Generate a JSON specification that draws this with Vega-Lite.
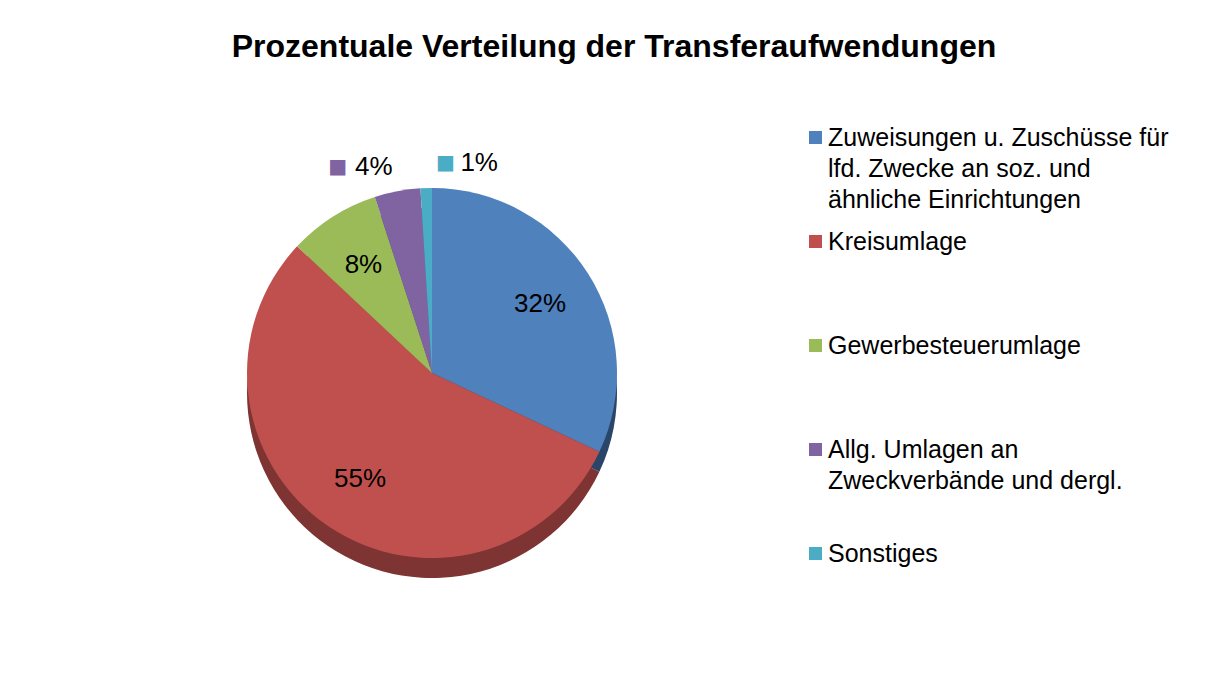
{
  "$schema": "https://vega.github.io/schema/vega-lite/v6.json",
  "autosize": "none",
  "width": 746,
  "height": 606,
  "padding": {"left": 59, "top": 70, "right": 409, "bottom": 0},
  "background": "white",
  "title": {
    "text": "Prozentuale Verteilung der Transferaufwendungen",
    "fontSize": 32,
    "font": "Liberation Sans",
    "fontWeight": "bold",
    "color": "#000000",
    "anchor": "middle",
    "frame": "bounds",
    "offset": 6
  },
  "data": {
    "values": [
      {"idx": 1, "kategorie": "Zuweisungen u. Zuschüsse für lfd. Zwecke an soz. und ähnliche Einrichtungen", "anteil": 0.32},
      {"idx": 2, "kategorie": "Kreisumlage", "anteil": 0.55},
      {"idx": 3, "kategorie": "Gewerbesteuerumlage", "anteil": 0.08},
      {"idx": 4, "kategorie": "Allg. Umlagen an Zweckverbände und dergl.", "anteil": 0.04},
      {"idx": 5, "kategorie": "Sonstiges", "anteil": 0.01}
    ]
  },
  "encoding": {
    "theta": {"field": "anteil", "type": "quantitative", "stack": true},
    "order": {"field": "idx", "type": "quantitative"}
  },
  "layer": [
    {
      "mark": {"type": "arc", "outerRadius": 185, "yOffset": 20},
      "encoding": {
        "color": {
          "field": "kategorie", "type": "nominal",
          "scale": {
            "domain": ["Zuweisungen u. Zuschüsse für lfd. Zwecke an soz. und ähnliche Einrichtungen", "Kreisumlage", "Gewerbesteuerumlage", "Allg. Umlagen an Zweckverbände und dergl.", "Sonstiges"],
            "range": ["#2B4568", "#7E3432", "#6F8A3C", "#5A4676", "#337F96"]
          },
          "legend": null
        }
      }
    },
    {
      "mark": {"type": "arc", "outerRadius": 185},
      "encoding": {
        "color": {
          "field": "kategorie", "type": "nominal",
          "scale": {
            "domain": ["Zuweisungen u. Zuschüsse für lfd. Zwecke an soz. und ähnliche Einrichtungen", "Kreisumlage", "Gewerbesteuerumlage", "Allg. Umlagen an Zweckverbände und dergl.", "Sonstiges"],
            "range": ["#4F81BD", "#C0504D", "#9BBB59", "#8064A2", "#4BACC6"]
          },
          "legend": {
            "title": null,
            "orient": "none",
            "legendX": 744,
            "legendY": 55,
            "symbolType": "square",
            "symbolSize": 169,
            "symbolStrokeWidth": 0,
            "labelFont": "Liberation Sans",
            "labelFontSize": 25,
            "labelColor": "#000000",
            "labelLimit": 500,
            "labelOffset": 0,
            "labelBaseline": "top",
            "rowPadding": 16,
            "labelExpr": "datum.label == 'Zuweisungen u. Zuschüsse für lfd. Zwecke an soz. und ähnliche Einrichtungen' ? ['Zuweisungen u. Zuschüsse für', 'lfd. Zwecke an soz. und', 'ähnliche Einrichtungen'] : datum.label == 'Allg. Umlagen an Zweckverbände und dergl.' ? ['Allg. Umlagen an', 'Zweckverbände und dergl.', ' '] : [datum.label, ' ', ' ']",
            "encode": {
              "labels": {"update": {"lineHeight": {"value": 31}, "dy": {"value": -12}}}
            }
          }
        }
      }
    },
    {
      "mark": {"type": "text", "radius": 128, "fontSize": 26, "font": "Liberation Sans", "fill": "#000000", "baseline": "middle"},
      "encoding": {
        "detail": {"field": "kategorie", "type": "nominal"},
        "text": {"condition": {"test": "datum.anteil < 0.05", "value": ""}, "field": "anteil", "type": "quantitative", "format": ".0%"}
      }
    },
    {
      "mark": {"type": "text", "radius": 210, "fontSize": 26, "font": "Liberation Sans", "fill": "#000000", "baseline": "middle", "align": "right"},
      "encoding": {
        "detail": {"field": "kategorie", "type": "nominal"},
        "text": {"condition": {"test": "datum.idx != 4", "value": ""}, "field": "anteil", "type": "quantitative", "format": ".0%"}
      }
    },
    {
      "mark": {"type": "text", "radius": 210, "fontSize": 26, "font": "Liberation Sans", "fill": "#000000", "baseline": "middle", "align": "left", "dx": 35},
      "encoding": {
        "detail": {"field": "kategorie", "type": "nominal"},
        "text": {"condition": {"test": "datum.idx != 5", "value": ""}, "field": "anteil", "type": "quantitative", "format": ".0%"}
      }
    },
    {
      "mark": {"type": "text", "radius": 210, "fontSize": 20, "font": "DejaVu Sans", "baseline": "middle", "align": "center", "dx": -55},
      "encoding": {
        "color": {
          "field": "kategorie", "type": "nominal",
          "scale": {
            "domain": ["Zuweisungen u. Zuschüsse für lfd. Zwecke an soz. und ähnliche Einrichtungen", "Kreisumlage", "Gewerbesteuerumlage", "Allg. Umlagen an Zweckverbände und dergl.", "Sonstiges"],
            "range": ["#4F81BD", "#C0504D", "#9BBB59", "#8064A2", "#4BACC6"]
          },
          "legend": null
        },
        "text": {"condition": {"test": "datum.idx == 4", "value": "■"}, "value": ""}
      }
    },
    {
      "mark": {"type": "text", "radius": 210, "fontSize": 20, "font": "DejaVu Sans", "baseline": "middle", "align": "center", "dx": 20},
      "encoding": {
        "color": {
          "field": "kategorie", "type": "nominal",
          "scale": {
            "domain": ["Zuweisungen u. Zuschüsse für lfd. Zwecke an soz. und ähnliche Einrichtungen", "Kreisumlage", "Gewerbesteuerumlage", "Allg. Umlagen an Zweckverbände und dergl.", "Sonstiges"],
            "range": ["#4F81BD", "#C0504D", "#9BBB59", "#8064A2", "#4BACC6"]
          },
          "legend": null
        },
        "text": {"condition": {"test": "datum.idx == 5", "value": "■"}, "value": ""}
      }
    }
  ],
  "resolve": {"scale": {"color": "independent"}},
  "config": {"view": {"stroke": null}}
}
